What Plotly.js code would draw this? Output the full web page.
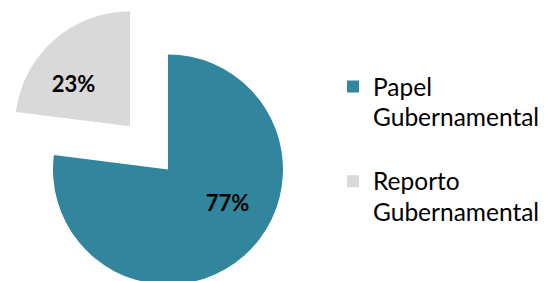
<!DOCTYPE html>
<html>
<head>
<meta charset="utf-8">
<script src="https://cdn.plot.ly/plotly-3.0.1.min.js"></script>
<style>
html,body{margin:0;padding:0;width:554px;height:281px;overflow:hidden;background:#fff;}
#chart{position:absolute;left:-5px;top:-3px;width:600px;height:345px;}
</style>
</head>
<body>
<div id="chart"></div>
<script>
var categories = ["Papel Gubernamental", "Reporto Gubernamental"];
var legendLines = [["Papel", "Gubernamental"], ["Reporto", "Gubernamental"]];
var values = [77, 23];
var colors = ["#31859C", "#D9D9D9"];
var pulls = [0, 0.5];

var legendLabels = legendLines.map(function (l) {
  return "&nbsp;<br>" + l.map(function (s) {
    return "<span style='font-size:24.5px'>" + s + "</span>";
  }).join("<br>");
});

// nudge label placement inside each slice (padding only, value comes from data)
var pad = function (n) { return new Array(n + 1).join("&nbsp;"); };
var blank = "<span style='font-size:12px'>&nbsp;</span>";
var templates = [
  "<span style='font-size:22px'>" + pad(8) + "%{percent:.0%}</span><br>" + blank,
  blank + "<br>%{percent:.0%}" + pad(4)
];

var trace = {
  type: "pie",
  labels: legendLabels,
  values: values,
  sort: false,
  direction: "clockwise",
  rotation: 0,
  pull: pulls,
  marker: {colors: colors, line: {width: 0}},
  texttemplate: templates,
  textposition: "inside",
  insidetextorientation: "horizontal",
  textfont: {family: "Lato", size: [17, 22], weight: 700, color: "#000"},
  hoverinfo: "none",
  domain: {x: [0, 346/600], y: [0, 1]}
};

var layout = {
  width: 600, height: 345,
  margin: {l: 0, r: 0, t: 0, b: 0},
  paper_bgcolor: "#fff",
  showlegend: true,
  legend: {
    x: 0.5634, xanchor: "left",
    y: 0.892, yanchor: "top",
    font: {family: "Lato", size: 23.5, color: "#000"},
    bgcolor: "rgba(0,0,0,0)"
  }
};

Plotly.newPlot("chart", [trace], layout, {staticPlot: true, displayModeBar: false});
</script>
</body>
</html>
